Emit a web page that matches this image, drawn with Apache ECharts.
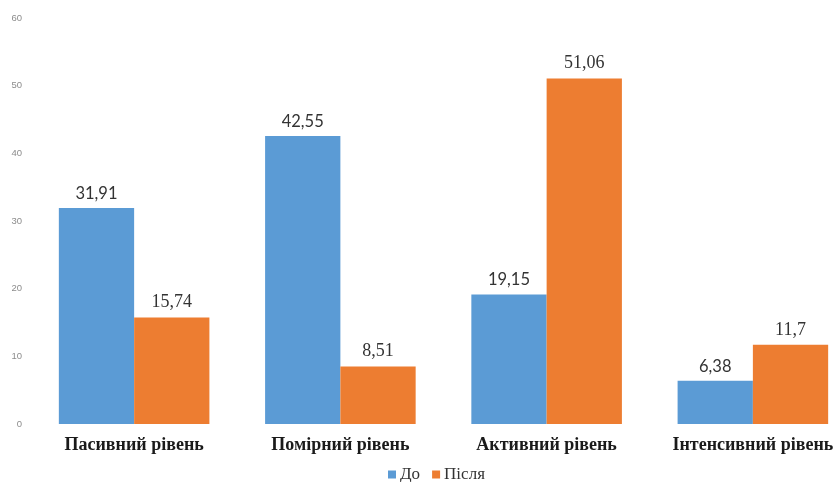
<!DOCTYPE html>
<html>
<head>
<meta charset="utf-8">
<script src="https://cdn.jsdelivr.net/npm/echarts@6/dist/echarts.min.js"></script>
<style>
  html, body { margin: 0; padding: 0; background: #fff; overflow: hidden; }
  /* the plot runs slightly past the right edge of the page */
  #chart { width: 856px; height: 482px; }
</style>
</head>
<body>
<div id="chart"></div>
<script>
// Рівні активності та відсотки до і після
const categories = ['Пасивний рівень', 'Помірний рівень', 'Активний рівень', 'Інтенсивний рівень'];
const beforeValues = [31.91, 42.55, 19.15, 6.38];
const afterValues = [15.74, 8.51, 51.06, 11.7];
const seriesNames = ['До', 'Після'];
const yTicks = [0, 10, 20, 30, 40, 50, 60];

const fmt = p => String(p.value).replace('.', ',');

const chart = echarts.init(document.getElementById('chart'), null, { renderer: 'canvas' });
chart.setOption({
  animation: false,
  backgroundColor: '#ffffff',
  grid: { left: 31, top: 18, right: 0, height: 406, containLabel: false },
  legend: {
    data: seriesNames,
    left: 383,
    top: 461,
    itemWidth: 8,
    itemHeight: 8,
    itemGap: 12,
    icon: 'rect',
    textStyle: { fontFamily: 'Liberation Serif', fontSize: 17, color: '#333', padding: [0, 0, 0, -1] }
  },
  xAxis: {
    type: 'category',
    data: categories,
    axisLine: { show: false },
    axisTick: { show: false },
    axisLabel: {
      interval: 0,
      margin: 12,
      fontFamily: 'Liberation Serif',
      fontWeight: 'bold',
      fontSize: 18,
      color: '#1a1a1a'
    }
  },
  yAxis: {
    type: 'value',
    min: yTicks[0],
    max: yTicks[yTicks.length - 1],
    interval: 10,
    splitLine: { show: false },
    axisLine: { show: false },
    axisTick: { show: false },
    axisLabel: { fontFamily: 'Liberation Sans', fontSize: 9.5, color: '#8c8c8c', margin: 9 }
  },
  series: [
    {
      name: seriesNames[0],
      type: 'bar',
      data: beforeValues,
      barGap: '0%',
      barCategoryGap: '27%',
      itemStyle: { color: '#5B9BD5' },
      label: {
        show: true,
        position: 'top',
        distance: 6,
        formatter: fmt,
        fontFamily: 'Lato',
        fontSize: 16.5,
        color: '#333'
      }
    },
    {
      name: seriesNames[1],
      type: 'bar',
      data: afterValues,
      barGap: '0%',
      barCategoryGap: '27%',
      itemStyle: { color: '#ED7D31' },
      label: {
        show: true,
        position: 'top',
        distance: 6,
        formatter: fmt,
        fontFamily: 'Liberation Serif',
        fontSize: 18,
        color: '#333'
      }
    }
  ]
});
</script>
</body>
</html>
